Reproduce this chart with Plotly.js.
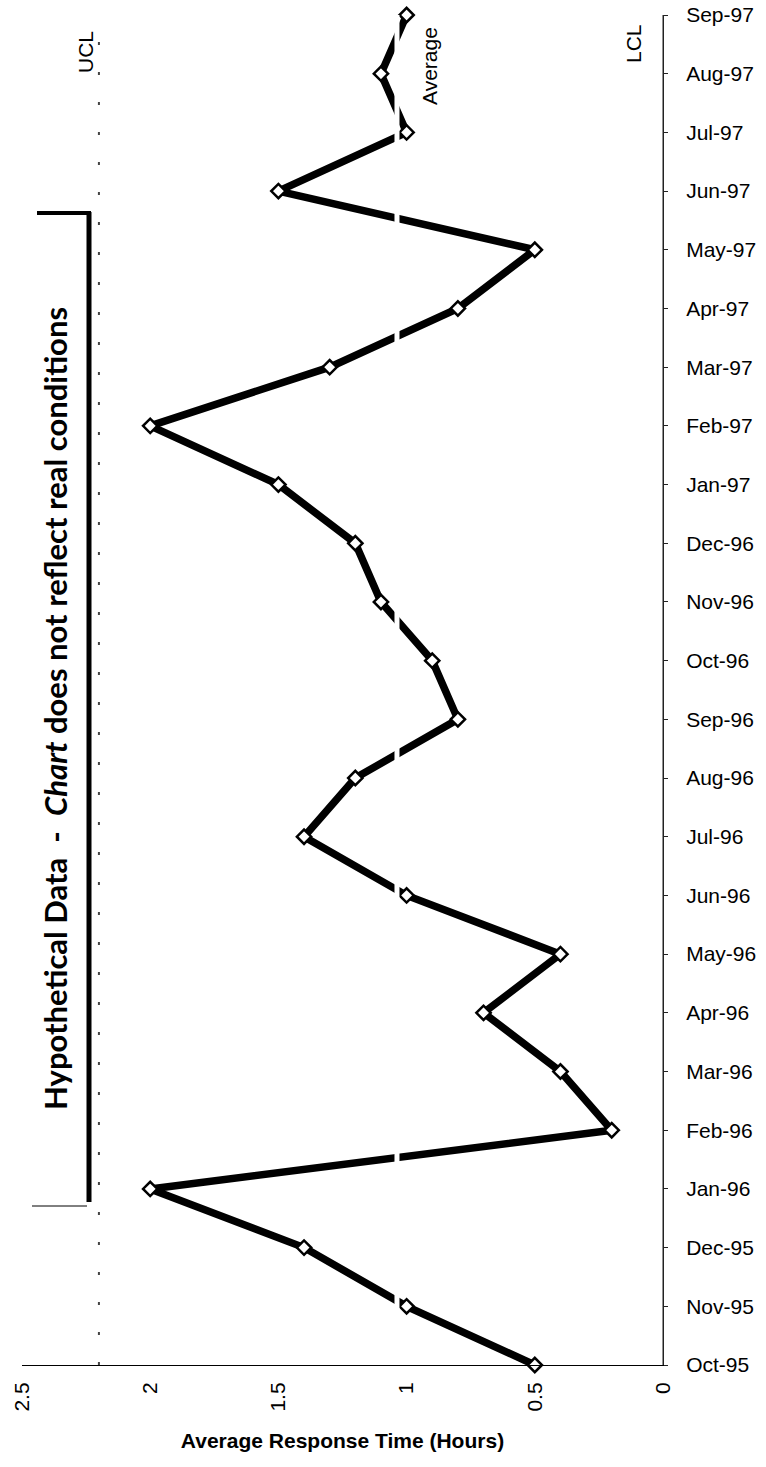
<!DOCTYPE html>
<html>
<head>
<meta charset="utf-8">
<script src="https://cdn.plot.ly/plotly-3.0.1.min.js"></script>
<style>html,body{margin:0;padding:0;background:#fff;}#chart{width:766px;height:1467px;}</style>
</head>
<body>
<div id="chart"></div>
<script>
// Data
const months = ["Oct-95","Nov-95","Dec-95","Jan-96","Feb-96","Mar-96","Apr-96","May-96","Jun-96","Jul-96","Aug-96","Sep-96","Oct-96","Nov-96","Dec-96","Jan-97","Feb-97","Mar-97","Apr-97","May-97","Jun-97","Jul-97","Aug-97","Sep-97"];
const responseHours = [0.5,1.0,1.4,2.0,0.2,0.4,0.7,0.4,1.0,1.4,1.2,0.8,0.9,1.1,1.2,1.5,2.0,1.3,0.8,0.5,1.5,1.0,1.1,1.0];
const ucl = 2.2;
const lcl = 0;
const average = responseHours.reduce((a,b)=>a+b,0)/responseHours.length;
const xTickVals = [0,0.5,1,1.5,2,2.5];
const xTickText = ["0","0.5","1","1.5","2","2.5"];

const trace = {
  type: 'scatter',
  mode: 'lines+markers',
  x: responseHours,
  y: months,
  cliponaxis: false,
  line: {color: '#000', width: 7.5},
  marker: {symbol: 'diamond', size: 11, color: '#fff', line: {color: '#000', width: 2.5}},
  hoverinfo: 'x+y'
};

const L = 22, R = 103, T = 15, B = 102;
const W = 766, H = 1467;
const pw = W - L - R, ph = H - T - B;
const px = v => (v - L) / pw;
const py = v => (H - B - v) / ph;

const layout = {
  width: W, height: H,
  margin: {l: L, r: R, t: T, b: B},
  paper_bgcolor: '#fff', plot_bgcolor: '#fff',
  showlegend: false,
  font: {family: 'Liberation Sans, Arial, sans-serif', color: '#000'},
  xaxis: {
    range: [2.5, 0], autorange: false,
    tickvals: xTickVals, ticktext: xTickText,
    tickangle: -90,
    tickfont: {size: 21, family: 'Liberation Sans, Arial, sans-serif'},
    showgrid: false, zeroline: false,
    showline: true, linecolor: '#000', linewidth: 1,
    ticks: '', ticklabelstandoff: 8,
    title: {text: '<b>Average Response Time (Hours)</b>', font: {size: 21, family: 'Liberation Sans Narrow, Liberation Sans, Arial, sans-serif'}, standoff: 22}
  },
  yaxis: {
    type: 'category', categoryarray: months, categoryorder: 'array',
    range: [0, months.length - 1], autorange: false,
    side: 'right',
    tickfont: {size: 21, family: 'Liberation Sans, Arial, sans-serif'},
    showgrid: false, zeroline: false,
    showline: true, linecolor: '#222', linewidth: 1,
    ticks: 'outside', ticklen: 4, tickcolor: '#222',
    ticklabelstandoff: 14
  },
  shapes: [
    {type: 'line', xref: 'x', yref: 'paper', x0: ucl, x1: ucl, y0: 0, y1: 1,
     line: {color: '#444', width: 2, dash: '3px,27px'}, layer: 'below'},
    {type: 'line', xref: 'x', yref: 'paper', x0: average, x1: average, y0: 0, y1: 1,
     line: {color: '#fff', width: 5}, layer: 'above'},
    {type: 'line', xref: 'x', yref: 'paper', x0: lcl, x1: lcl, y0: 0, y1: 1,
     line: {color: '#222', width: 1}, layer: 'below'},
    // bracket
    {type: 'line', xref: 'paper', yref: 'paper', x0: px(89), x1: px(89), y0: py(212), y1: py(1202),
     line: {color: '#000', width: 5}},
    {type: 'line', xref: 'paper', yref: 'paper', x0: px(37), x1: px(91), y0: py(213), y1: py(213),
     line: {color: '#000', width: 4}},
    {type: 'line', xref: 'paper', yref: 'paper', x0: px(32), x1: px(87), y0: py(1206), y1: py(1206),
     line: {color: '#000', width: 1}}
  ],
  annotations: [
    {text: 'UCL', xref: 'paper', yref: 'paper', x: px(85), y: py(52), textangle: -90, showarrow: false,
     font: {size: 21}, xanchor: 'center', yanchor: 'middle'},
    {text: 'Average', xref: 'paper', yref: 'paper', x: px(429), y: py(66), textangle: -90, showarrow: false,
     font: {size: 21}, xanchor: 'center', yanchor: 'middle'},
    {text: 'LCL', xref: 'paper', yref: 'paper', x: px(634), y: py(44), textangle: -90, showarrow: false,
     font: {size: 21}, xanchor: 'center', yanchor: 'middle'},
    {text: 'Hypothetical Data  -  <i>Chart</i> does not reflect real conditions', xref: 'paper', yref: 'paper',
     x: px(55), y: py(709), textangle: -90, showarrow: false,
     font: {size: 31, family: 'Lato, Open Sans, sans-serif', weight: 'bold'}, xanchor: 'center', yanchor: 'middle'}
  ]
};

Plotly.newPlot('chart', [trace], layout, {displayModeBar: false, staticPlot: true});
</script>
</body>
</html>
